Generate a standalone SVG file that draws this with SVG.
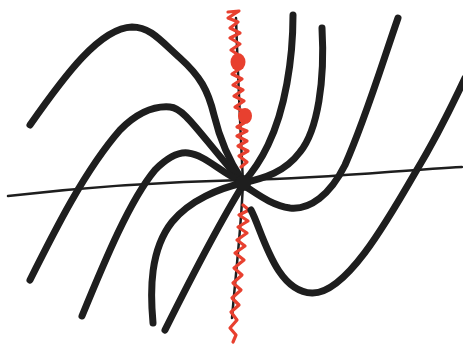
<svg xmlns="http://www.w3.org/2000/svg" width="463" height="346" viewBox="0 0 463 346">
  <style>
    .curve { fill: none; stroke: #1e1e1e; stroke-width: 7; stroke-linecap: round; stroke-linejoin: round; }
    .thin { fill: none; stroke: #1e1e1e; stroke-width: 2.5; stroke-linecap: round; }
    .red { fill: none; stroke: #e8402f; stroke-width: 3.2; stroke-linecap: round; stroke-linejoin: round; }
    .blob { fill: #e8402f; }
  </style>
  <rect width="463" height="346" fill="#ffffff"/>
  <g id="axes">
    <path class="thin" d="M8,196 C60,190 150,182 243,180 S400,170 462,167"/>
    <path class="thin" d="M236,18 C238,80 241,140 243,183 C241,230 236,270 232,318"/>
  </g>
  <g id="red-line">
    <polyline class="red" points="228,12 239,11 228,18 238,22 230,28 240,33 230,38 240,44 231,50 237,54"/>
    <ellipse class="blob" cx="238" cy="62" rx="7.5" ry="9"/>
    <polyline class="red" points="238,70 232,74 242,79 233,85 243,90 234,96 244,101 235,107 241,110"/>
    <ellipse class="blob" cx="245" cy="116" rx="7" ry="8"/>
    <polyline class="red" points="244,123 237,127 247,131 237,136 247,141 238,146 248,151 239,156 247,162 241,167"/>
    <polyline class="red" points="243,205 249,210 239,215 248,221 238,227 247,233 237,240 245,246 235,253 244,260 234,268 242,275 233,283 241,290 232,298 239,305 231,312 237,320 230,328 236,335 233,342"/>
  </g>
  <g id="curves">
    <path class="curve" d="M30,125 C65,75 100,28 132,27 C150,27 160,40 180,58 C200,76 208,90 214,115 C220,140 230,162 242,180"/>
    <path class="curve" d="M30,280 C55,230 85,170 120,130 C140,110 158,106 170,107 C185,108 200,135 242,182"/>
    <path class="curve" d="M82,316 C105,260 130,200 155,170 C170,155 180,152 188,153 C205,155 220,172 242,182"/>
    <path class="curve" d="M153,323 C150,290 150,250 172,222 C190,200 220,188 243,183"/>
    <path class="curve" d="M165,330 C185,290 215,230 243,185"/>
    <path class="curve" d="M293,15 C293,60 285,110 268,145 C260,162 250,175 243,183"/>
    <path class="curve" d="M322,28 C325,80 318,130 300,152 C285,172 265,178 243,183"/>
    <path class="curve" d="M398,18 C380,70 365,120 345,165 C330,195 310,210 290,208 C270,205 255,192 243,185"/>
    <path class="curve" d="M251,210 C262,230 275,292 312,293 C345,294 385,225 415,173 C435,140 450,110 465,78"/>
  </g>
  <g id="center">
    <circle cx="243" cy="183" r="8" fill="#1e1e1e"/>
  </g>
</svg>
